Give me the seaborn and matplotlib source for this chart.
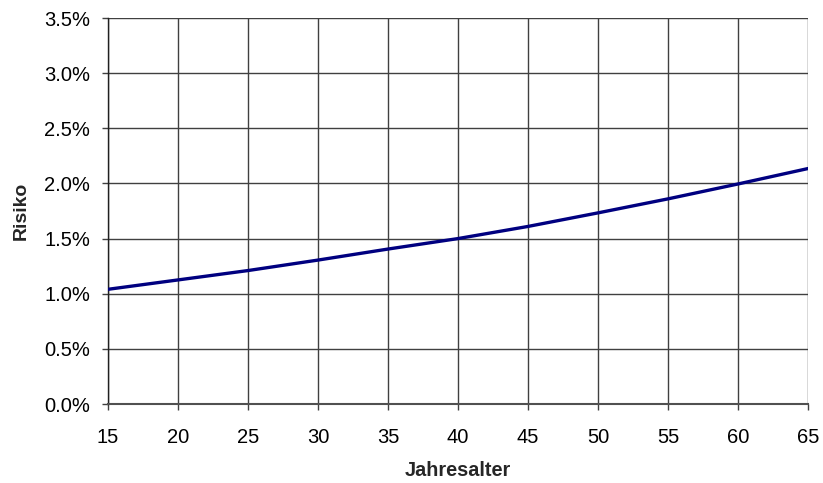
import matplotlib
matplotlib.use("Agg")
import matplotlib.pyplot as plt
from matplotlib.ticker import PercentFormatter, MultipleLocator
import seaborn as sns
import pandas as pd

# Age (years) and risk (%) by age
ages = [15, 20, 25, 30, 35, 40, 45, 50, 55, 60, 65]
risk = [1.04, 1.125, 1.21, 1.305, 1.405, 1.50, 1.61, 1.733, 1.86, 1.995, 2.135]

sns.set_style("white")
plt.rcParams["font.family"] = ["Liberation Sans", "DejaVu Sans"]

df = pd.DataFrame({"Jahresalter": ages, "Risiko": risk})

fig = plt.figure(figsize=(8.23, 4.83), dpi=100)
ax = fig.add_axes([108 / 823, 1 - 404 / 483, 700 / 823, 386 / 483])

sns.lineplot(data=df, x="Jahresalter", y="Risiko", ax=ax,
             color="#000080", linewidth=2.4, zorder=3)

ax.set_xlim(15, 65)
ax.set_ylim(0, 3.5)
ax.xaxis.set_major_locator(MultipleLocator(5))
ax.yaxis.set_major_locator(MultipleLocator(0.5))
ax.yaxis.set_major_formatter(PercentFormatter(decimals=1))

ax.grid(True, color="#404040", linewidth=1.0, zorder=0)
for side in ["top", "right"]:
    ax.spines[side].set_visible(False)
ax.spines["left"].set_color("#202020")
ax.spines["bottom"].set_color("#505050")
ax.spines["left"].set_linewidth(1.0)
ax.spines["bottom"].set_linewidth(1.5)

ax.tick_params(axis="both", which="major", direction="out", length=4.5,
               width=1, color="#404040", labelsize=14.5, labelcolor="black",
               left=True, bottom=True)
ax.tick_params(axis="y", pad=8.5)
ax.tick_params(axis="x", pad=13)

ax.set_xlabel("Jahresalter", fontsize=14.3, fontweight="bold", labelpad=10)
ax.set_ylabel("Risiko", fontsize=14, fontweight="bold", labelpad=10)

fig.savefig("out.png", dpi=100)
